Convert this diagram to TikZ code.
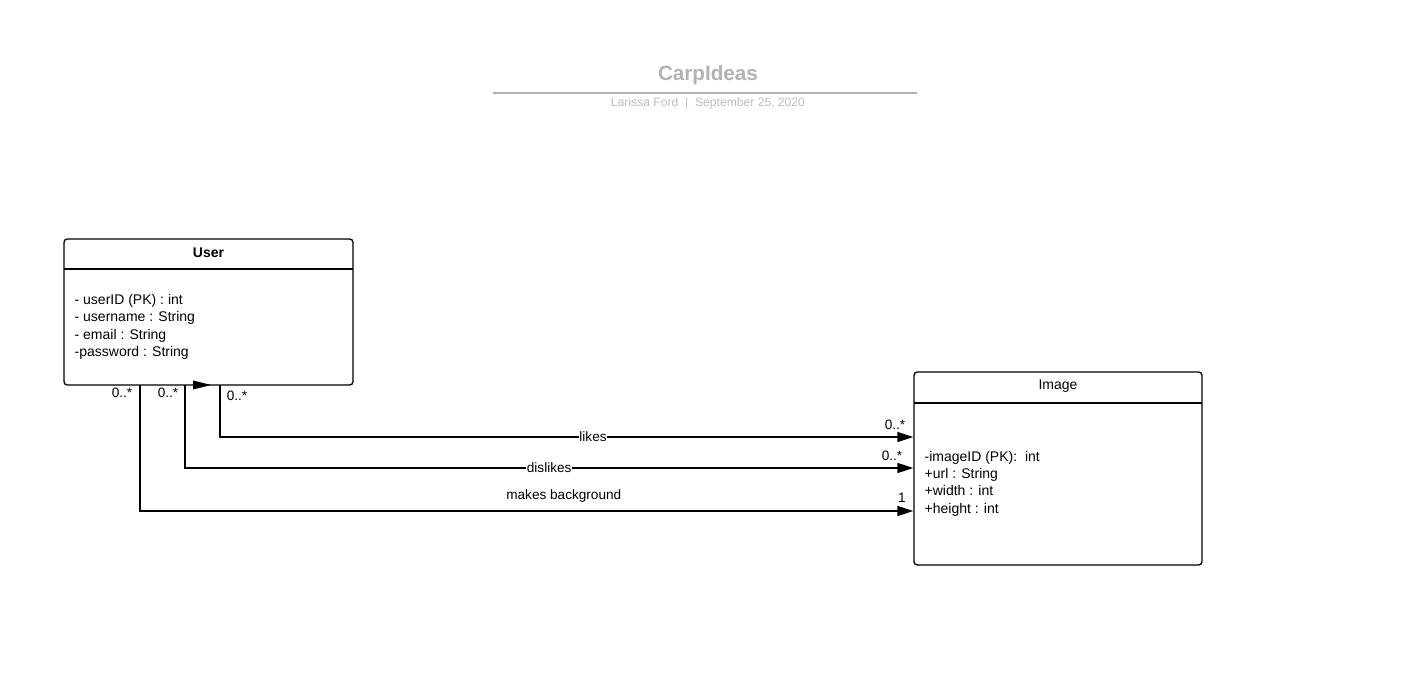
\documentclass[tikz,border=0pt]{standalone}
\usepackage{fontspec}
\setmainfont{Liberation Sans}
\usetikzlibrary{arrows.meta}

\definecolor{titlegray}{RGB}{178,178,178}
\definecolor{subgray}{RGB}{188,188,188}

\tikzset{every picture/.style={line width=1pt}}
\tikzset{
  classbox/.style={draw, rounded corners=2.5pt, inner sep=0pt},
  attrtext/.style={font=\fontsize{10.5}{13}\selectfont, align=left, inner sep=0pt, anchor=west},
  mult/.style={font=\fontsize{10.2}{12}\selectfont, inner sep=0pt},
  assoc/.style={-{Triangle[length=12pt,width=7.5pt]}},
  rolelabel/.style={font=\fontsize{10.2}{12}\selectfont, fill=white, inner sep=0.5pt},
}

\begin{document}
\begin{tikzpicture}[x=0.75pt,y=0.75pt,yscale=-1]
  \useasboundingbox (0,0) rectangle (1411,677);

  % title block
  \node [text=titlegray, font=\fontsize{15.5}{18}\selectfont\bfseries] (title) at (708,75.5) {CarpIdeas};
  \draw [titlegray, line width=0.8pt] (493,93) -- (917,93);
  \node [text=subgray, font=\fontsize{9.1}{10}\selectfont] (subtitle) at (708,103.5) {Larissa Ford\ \ |\ \ September 25, 2020};

  % User class
  \node [classbox, minimum width=216.75pt, minimum height=109.5pt] (user) at (208.5,312) {};
  \draw (64,269) -- (353,269);
  \node [font=\fontsize{10.5}{12}\selectfont\bfseries] (usertitle) at (208.5,253) {User};
  \node [attrtext] (userattr) at (74,327) {- userID (PK) : int\\- username : String\\- email : String\\-password : String};
  \fill (193,380.5) -- (211,385) -- (193,389.5) -- cycle;

  % Image class
  \node [classbox, minimum width=216pt, minimum height=144.75pt] (image) at (1058,468.5) {};
  \draw (914,403) -- (1202,403);
  \node [font=\fontsize{10.5}{12}\selectfont] (imagetitle) at (1058,386) {Image};
  \node [attrtext] (imageattr) at (924,483.5) {-imageID (PK):\ \ int\\+url : String\\+width : int\\+height : int};

  % association ends
  \coordinate (likesU) at (220,385);
  \coordinate (dislikesU) at (185,385);
  \coordinate (bgU) at (140,385);
  \coordinate (likesI) at (image.west |- 0,437);
  \coordinate (dislikesI) at (image.west |- 0,468);
  \coordinate (bgI) at (image.west |- 0,511);

  \draw [assoc] (likesU) |- (likesI) node [rolelabel, pos=0.769] {likes};
  \draw [assoc] (dislikesU) |- (dislikesI) node [rolelabel, pos=0.75] {dislikes};
  \draw [assoc] (bgU) |- (bgI) node [font=\fontsize{10.2}{12}\selectfont, pos=0.774, above=3pt] {makes background};

  % multiplicities
  \node [mult] (m1) at (237,395.5) {0..*};
  \node [mult] (m2) at (168,393) {0..*};
  \node [mult] (m3) at (122,393) {0..*};
  \node [mult] (m4) at (895,425) {0..*};
  \node [mult] (m5) at (892,455.5) {0..*};
  \node [mult] (m6) at (902,498) {1};

\end{tikzpicture}
\end{document}
